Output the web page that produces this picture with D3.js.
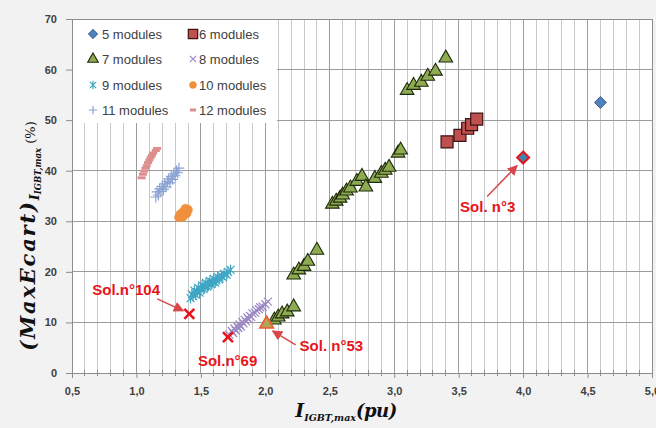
<!DOCTYPE html>
<html><head><meta charset="utf-8">
<script src="https://cdn.jsdelivr.net/npm/d3@7"></script>
<style>body{margin:0;background:#f2f2f2} svg{display:block}</style>
</head><body><svg id="c" width="656" height="428"></svg>
<script>
// ---------- data ----------
const xTicks = [0.5,1.0,1.5,2.0,2.5,3.0,3.5,4.0,4.5,5.0];
const xTickLabels = ["0,5","1,0","1,5","2,0","2,5","3,0","3,5","4,0","4,5","5,0"];
const yTicks = [0,10,20,30,40,50,60,70];
const yTickLabels = ["0","10","20","30","40","50","60","70"];
const seriesNames = ["5 modules","6 modules","7 modules","8 modules","9 modules","10 modules","11 modules","12 modules"];

const mod5 = [[4.6,53.5]];
const mod6 = [[3.41,45.7],[3.51,47.0],[3.57,48.4],[3.60,49.1],[3.64,50.2]];
const mod7 = [
 [2.07,10.5],[2.10,11.1],[2.13,11.7],[2.17,12.1],[2.22,13.1],
 [2.22,19.4],[2.26,20.4],[2.30,21.1],[2.33,22.1],[2.40,24.3],
 [2.52,33.4],[2.55,34.0],[2.58,34.6],[2.60,35.2],[2.63,36.0],[2.66,36.6],[2.71,37.9],[2.75,38.9],
 [2.78,36.8],[2.85,38.5],[2.90,39.5],[2.93,40.1],[2.96,40.7],[3.03,43.5],[3.05,44.1],
 [3.10,55.9],[3.15,56.9],[3.21,57.5],[3.26,58.7],[3.32,59.7],[3.40,62.3]
];
const mod8 = [[1.72,7.6],[1.74,8.3],[1.75,7.9],[1.76,8.8],[1.77,8.4],[1.78,9.3],[1.79,8.9],[1.80,9.6],[1.81,9.2],
 [1.82,10.1],[1.83,9.8],[1.84,10.5],[1.85,10.2],[1.86,11.0],[1.87,10.6],[1.88,11.3],[1.89,11.1],[1.90,11.8],
 [1.92,11.9],[1.93,12.4],[1.95,12.6],[1.96,13.0],[1.98,13.1],[2.00,13.6],[2.02,14.1]];
const mod9 = [[1.42,14.8],[1.43,15.6],[1.44,15.2],[1.45,16.3],[1.46,15.5],[1.47,16.0],[1.48,16.8],[1.49,15.9],
 [1.50,16.5],[1.51,17.3],[1.52,16.6],[1.53,17.0],[1.54,17.8],[1.55,17.1],[1.56,17.5],[1.57,18.2],[1.58,17.6],
 [1.59,18.0],[1.60,18.6],[1.61,17.9],[1.62,18.4],[1.63,19.0],[1.64,18.5],[1.66,19.2],[1.67,18.9],[1.68,19.6],
 [1.70,19.4],[1.71,20.0],[1.73,20.4]];
const mod10 = [[1.33,30.8],[1.34,31.4],[1.35,31.0],[1.36,31.8],[1.37,31.3],[1.38,32.0],[1.39,31.6],[1.40,32.3],[1.36,30.9],[1.38,32.5]];
const mod11 = [[1.15,34.8],[1.16,35.8],[1.17,35.2],[1.18,36.4],[1.19,35.9],[1.20,36.9],[1.21,36.3],[1.22,37.4],
 [1.23,36.8],[1.24,37.9],[1.25,38.4],[1.26,37.6],[1.27,38.9],[1.28,38.3],[1.29,39.4],[1.30,39.0],[1.31,40.0],
 [1.32,39.6],[1.33,40.5]];
const mod12 = [[1.04,38.6],[1.05,39.3],[1.06,39.9],[1.07,40.5],[1.08,41.0],[1.09,41.6],[1.10,42.1],[1.11,42.6],
 [1.12,43.0],[1.13,43.5],[1.15,44.0],[1.16,44.4]];

const solLabels = ["Sol. n°3","Sol.n°104","Sol.n°69","Sol. n°53"];
const solX = [4.0,1.41,1.71,2.01];
const solY = [42.6,11.7,7.1,9.7];
const solShape = ["diamond","x","x","triangle"];

// ---------- layout ----------
const W=656,H=428, L=72,R=652,T=19,B=373;
const svg=d3.select("#c");
const x=d3.scaleLinear().domain([0.5,5.0]).range([L,R]);
const y=d3.scaleLinear().domain([0,70]).range([B,T]);

svg.append("rect").attr("width",W).attr("height",H).attr("fill","#f2f2f2");
svg.append("rect").attr("x",L).attr("y",T).attr("width",R-L).attr("height",B-T).attr("fill","#ffffff");

const grid=svg.append("g");
const minor=x.ticks(45).filter(v=>Math.abs(v*2-Math.round(v*2))>1e-6);
grid.selectAll(".mv").data(minor).join("line")
  .attr("x1",d=>x(d)).attr("x2",d=>x(d)).attr("y1",T).attr("y2",B)
  .attr("stroke","#c8c8c8").attr("stroke-width",1).attr("shape-rendering","crispEdges");
grid.selectAll(".Mv").data(xTicks).join("line")
  .attr("x1",d=>x(d)).attr("x2",d=>x(d)).attr("y1",T).attr("y2",B)
  .attr("stroke","#9c9c9c").attr("stroke-width",1).attr("shape-rendering","crispEdges");
grid.selectAll(".h").data(yTicks).join("line")
  .attr("x1",L).attr("x2",R).attr("y1",d=>y(d)).attr("y2",d=>y(d))
  .attr("stroke","#9c9c9c").attr("stroke-width",1).attr("shape-rendering","crispEdges");
svg.append("rect").attr("x",L).attr("y",T).attr("width",R-L).attr("height",B-T)
  .attr("fill","none").attr("stroke","#8c8c8c").attr("shape-rendering","crispEdges");

// axes
const yAxis=svg.append("g").attr("transform",`translate(${L},0)`)
  .call(d3.axisLeft(y).tickValues(yTicks).tickSize(6).tickPadding(9).tickFormat((d,i)=>yTickLabels[i]));
const xAxis=svg.append("g").attr("transform",`translate(0,${B})`)
  .call(d3.axisBottom(x).tickValues(xTicks).tickSize(5).tickPadding(9).tickFormat((d,i)=>xTickLabels[i]));
[yAxis,xAxis].forEach(a=>{
  a.select(".domain").attr("stroke","#8c8c8c");
  a.selectAll(".tick line").attr("stroke","#8c8c8c");
  a.selectAll("text").attr("font-family","'Liberation Sans',Arial,sans-serif").attr("font-weight","bold")
   .attr("font-size",11).attr("fill","#404040");
});
svg.append("g").selectAll("line").data(minor).join("line")
  .attr("x1",d=>x(d)).attr("x2",d=>x(d)).attr("y1",B-3).attr("y2",B+3)
  .attr("stroke","#8c8c8c").attr("shape-rendering","crispEdges");

// ---------- markers ----------
const shapes={
 diamond:r=>`M0,${-r}L${r},0L0,${r}L${-r},0Z`,
 square:r=>`M${-r},${-r}H${r}V${r}H${-r}Z`,
 triangle:r=>`M0,${-r*1.15}L${r},${r*0.6}L${-r},${r*0.6}Z`,
 circle:r=>`M${r},0A${r},${r},0,1,1,${-r},0A${r},${r},0,1,1,${r},0Z`,
 x:r=>`M${-r},${-r}L${r},${r}M${-r},${r}L${r},${-r}`,
 asterisk:r=>`M${-r},${-r}L${r},${r}M${-r},${r}L${r},${-r}M0,${-r*1.35}L0,${r*1.35}`,
 plus:r=>`M${-r*1.2},0L${r*1.2},0M0,${-r*1.2}L0,${r*1.2}`,
 dash:r=>`M${-r},0L${r},0`
};
const styles=[
 {shape:"diamond",r:6,fill:"#4f81bd",stroke:"#2a4a75",sw:0.8},
 {shape:"square",r:6,fill:"#c0504d",stroke:"#3a1212",sw:1.2},
 {shape:"triangle",r:6.8,fill:"#8fab52",stroke:"#1e2a0c",sw:1.1},
 {shape:"x",r:4,fill:"none",stroke:"#9c88c4",sw:1.2},
 {shape:"asterisk",r:4,fill:"none",stroke:"#3fa6c4",sw:1.2},
 {shape:"circle",r:4.5,fill:"#f0903c",stroke:"#f0903c",sw:0.5},
 {shape:"plus",r:4.5,fill:"none",stroke:"#8aa3d4",sw:1.2},
 {shape:"dash",r:4,fill:"none",stroke:"#dc8f8d",sw:3}
];
const allSeries=[mod5,mod6,mod7,mod8,mod9,mod10,mod11,mod12];
const pg=svg.append("g");
allSeries.forEach((data,i)=>{
  const s=styles[i];
  pg.append("g").selectAll("path").data(data).join("path")
    .attr("transform",d=>`translate(${x(d[0])},${y(d[1])})`)
    .attr("d",shapes[s.shape](s.r)).attr("fill",s.fill).attr("stroke",s.stroke).attr("stroke-width",s.sw);
});

// highlighted solutions
const red="#e8141c";
solX.forEach((sx,i)=>{
  const g=pg.append("g").attr("transform",`translate(${x(sx)},${y(solY[i])})`);
  if(solShape[i]==="diamond") g.append("path").attr("d",shapes.diamond(6)).attr("fill","#3f83a8").attr("stroke",red).attr("stroke-width",2);
  else if(solShape[i]==="triangle") g.append("path").attr("d",shapes.triangle(6.8)).attr("fill","#b5a25a").attr("stroke","#ee5a2a").attr("stroke-width",1.6);
  else g.append("path").attr("d",shapes.x(5)).attr("fill","none").attr("stroke",red).attr("stroke-width",2.6);
});

// annotations
const defs=svg.append("defs");
defs.append("marker").attr("id","ah").attr("viewBox","0 0 10 10").attr("refX",9).attr("refY",5)
  .attr("markerWidth",7).attr("markerHeight",7).attr("orient","auto-start-reverse")
  .append("path").attr("d","M0,0L10,5L0,10Z").attr("fill","#d8484a");
const ann=[
 {dx:-63,dy:54, a:[-36,39,-6,8]},
 {dx:-97,dy:-19, a:[-32,-15,-6,-3]},
 {dx:-30,dy:29, a:null},
 {dx:33,dy:27, a:[29,21,6,7]}
];
const ag=svg.append("g");
ann.forEach((o,i)=>{
  const px=x(solX[i]), py=y(solY[i]);
  if(o.a) ag.append("line").attr("x1",px+o.a[0]).attr("y1",py+o.a[1]).attr("x2",px+o.a[2]).attr("y2",py+o.a[3])
     .attr("stroke","#d8484a").attr("stroke-width",1.5).attr("marker-end","url(#ah)");
  ag.append("text").attr("x",px+o.dx).attr("y",py+o.dy).text(solLabels[i])
    .attr("font-family","'Liberation Sans',Arial,sans-serif").attr("font-weight","bold").attr("font-size",15).attr("fill",red);
});

// legend
const lg=svg.append("g");
lg.append("rect").attr("x",L+1).attr("y",T+1).attr("width",204).attr("height",103).attr("fill","#fff");
const colX=[93,193], textX=[102,199], rowY=[34,59,85,110];
seriesNames.forEach((n,i)=>{
  const c=i%2, r=Math.floor(i/2), s=styles[i];
  lg.append("path").attr("transform",`translate(${colX[c]},${rowY[r]})`)
    .attr("d",shapes[s.shape](s.r*0.78)).attr("fill",s.fill).attr("stroke",s.stroke).attr("stroke-width",s.sw);
  lg.append("text").attr("x",textX[c]).attr("y",rowY[r]+4.5).text(n)
    .attr("font-family","'Liberation Sans',Arial,sans-serif").attr("font-size",13).attr("fill","#404040");
});

// axis titles
const serif="'DejaVu Serif',serif";
const xt=svg.append("text").attr("x",346).attr("y",417).attr("text-anchor","middle")
  .attr("font-family",serif).attr("font-weight","bold").attr("font-style","italic").attr("fill","#111");
xt.append("tspan").attr("font-size",19).text("I");
xt.append("tspan").attr("font-size",9.5).attr("dy",4).text("IGBT,max");
xt.append("tspan").attr("font-size",18).attr("dy",-4).attr("letter-spacing",-0.5).text("(pu)");

const yt=svg.append("text").attr("transform","translate(35,236) rotate(-90)").attr("text-anchor","middle")
  .attr("font-family",serif).attr("fill","#111");
yt.append("tspan").attr("font-size",21).attr("font-weight","bold").attr("font-style","italic").attr("letter-spacing",1.8).text("(MaxEcart)");
yt.append("tspan").attr("font-size",13).attr("font-weight","bold").attr("font-style","italic").attr("dy",4).text("I");
yt.append("tspan").attr("font-size",8.5).attr("font-weight","bold").attr("font-style","italic").attr("dy",2).text("IGBT,max");
yt.append("tspan").attr("font-size",13).attr("dy",-6).text(" (%)");
</script></body></html>
